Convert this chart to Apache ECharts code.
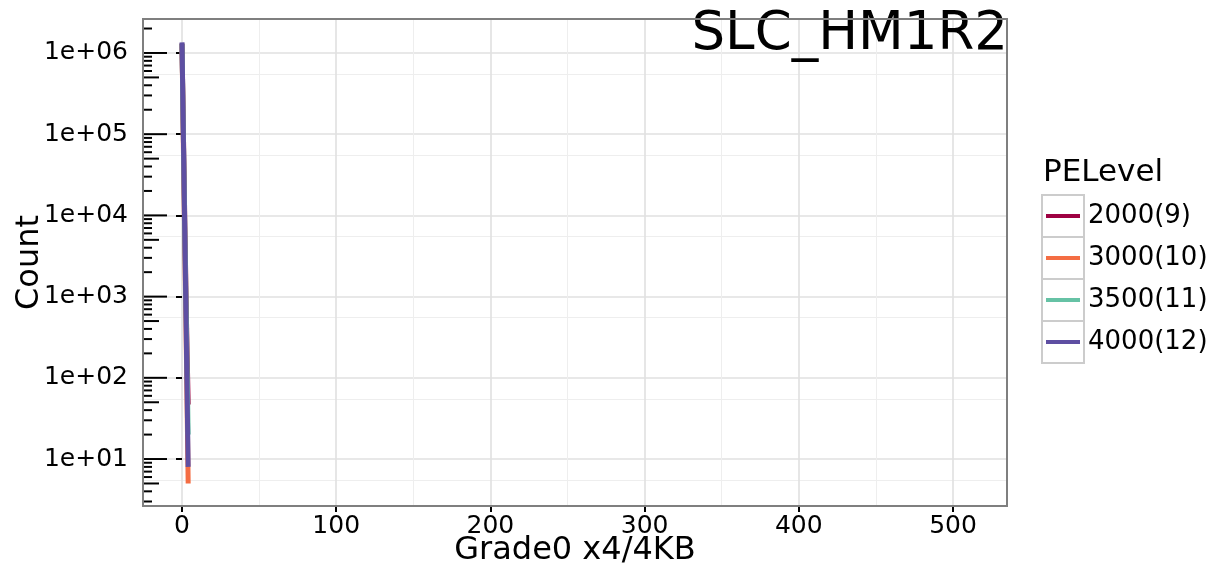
<!DOCTYPE html>
<html>
<head>
<meta charset="utf-8">
<script src="https://cdn.jsdelivr.net/npm/echarts@6/dist/echarts.min.js"></script>
<style>
  html, body { margin: 0; padding: 0; background: #fff; }
  #chart { width: 1229px; height: 573px; }
</style>
</head>
<body>
<div id="chart"></div>
<script>
// grade buckets on the x axis
var grades = [0, 1, 2, 3, 4];
// counts per PE level
var pe2000 = [1300000, 80000, 5000, 400, 47];
var pe3000 = [1300000, 50000, 2500, 120, 5];
var pe3500 = [1300000, 70000, 4000, 300, 20];
var pe4000 = [1350000, 66000, 3200, 160, 8];
var seriesNames = ['2000(9)', '3000(10)', '3500(11)', '4000(12)'];
var seriesColors = ['#9E0142', '#F46D43', '#66C2A5', '#5E4FA2'];
// log tick marks inside the panel
var decades = [0, 1, 2, 3, 4, 5, 6];
var multipliers = [1, 2, 3, 4, 5, 6, 7, 8, 9];

var xMin = -25.3, xMax = 535;
var yMin = 2.64, yMax = 2.62e6;
var font = 'DejaVu Sans';

function pairs(ys) {
    return grades.map(function (g, i) { return [g, ys[i]]; });
}

var logTicks = [];
decades.forEach(function (d) {
    multipliers.forEach(function (m) {
        var v = m * Math.pow(10, d);
        if (v >= yMin && v <= yMax) {
            logTicks.push([xMin, v, m]);
        }
    });
});

var chart = echarts.init(document.getElementById('chart'));

var lineSeries = [pe2000, pe3000, pe3500, pe4000].map(function (ys, i) {
    return {
        name: seriesNames[i],
        type: 'line',
        data: pairs(ys),
        showSymbol: false,
        symbol: 'none',
        lineStyle: { color: seriesColors[i], width: 5, cap: 'butt' },
        itemStyle: { color: seriesColors[i] },
        z: 3
    };
});

var boxes = seriesNames.map(function (n, i) {
    return {
        type: 'rect',
        z: 1,
        shape: { x: 1042, y: 195 + i * 42, width: 42, height: 42 },
        style: { fill: '#ffffff', stroke: '#cccccc', lineWidth: 2 }
    };
});
// panel border on top of the grid lines
boxes.push({
    type: 'rect',
    z: 50,
    shape: { x: 143, y: 19, width: 864, height: 487 },
    style: { fill: null, stroke: '#7f7f7f', lineWidth: 2 }
});

var option = {
    animation: false,
    backgroundColor: '#ffffff',
    textStyle: { fontFamily: font },
    title: [
        {
            text: 'SLC_HM1R2',
            right: 221,
            top: 9,
            padding: 0,
            textStyle: { fontFamily: font, fontSize: 53, fontWeight: 'normal', color: '#000' }
        },
        {
            text: 'PELevel',
            left: 1043,
            top: 157,
            padding: 0,
            textStyle: { fontFamily: font, fontSize: 31, fontWeight: 'normal', color: '#000' }
        }
    ],
    grid: {
        left: 143, right: 222, top: 19, bottom: 67,
        outerBoundsMode: 'none',
        containLabel: false,
        show: false
    },
    legend: {
        data: seriesNames,
        orient: 'vertical',
        left: 1046,
        top: 195,
        padding: 0,
        itemWidth: 34,
        itemHeight: 4,
        itemGap: 0,
        icon: 'rect',
        z: 5,
        textStyle: { fontFamily: font, fontSize: 26, color: '#000', lineHeight: 42, padding: [0, 0, 0, 3] }
    },
    graphic: boxes,
    xAxis: {
        type: 'value',
        min: xMin,
        max: xMax,
        splitNumber: 5,
        axisLine: { show: false },
        axisTick: { show: true, length: 6, lineStyle: { color: '#000', width: 2 } },
        axisLabel: {
            fontFamily: font, fontSize: 25, color: '#000', margin: 8,
            showMinLabel: false, showMaxLabel: false
        },
        splitLine: { show: true, lineStyle: { color: '#e0e0e0', width: 1.6 } },
        minorTick: { show: false, splitNumber: 2 },
        minorSplitLine: { show: true, lineStyle: { color: '#eeeeee', width: 1 } },
        name: 'Grade0 x4/4KB',
        nameLocation: 'middle',
        nameMoveOverlap: false,
        nameGap: 29,
        nameTextStyle: { fontFamily: font, fontSize: 32, color: '#000' }
    },
    yAxis: {
        type: 'log',
        logBase: 10,
        min: yMin,
        max: yMax,
        splitNumber: 6,
        axisLine: { show: false },
        axisTick: { show: true, length: 6, lineStyle: { color: '#000', width: 2 } },
        axisLabel: {
            fontFamily: font, fontSize: 25, color: '#000', margin: 15,
            showMinLabel: false, showMaxLabel: false,
            formatter: function (v) {
                var e = Math.round(Math.log10(v));
                return '1e+' + (e < 10 ? '0' : '') + e;
            }
        },
        splitLine: { show: true, lineStyle: { color: '#e0e0e0', width: 1.6 } },
        minorTick: { show: false, splitNumber: 2 },
        minorSplitLine: { show: true, lineStyle: { color: '#eeeeee', width: 1 } },
        name: 'Count',
        nameLocation: 'middle',
        nameMoveOverlap: false,
        nameGap: 97,
        nameTextStyle: { fontFamily: font, fontSize: 32, color: '#000' }
    },
    series: lineSeries.concat([{
        name: 'logticks',
        type: 'custom',
        data: logTicks,
        z: 2,
        silent: true,
        renderItem: function (params, api) {
            var y = api.coord([api.value(0), api.value(1)])[1];
            var x0 = params.coordSys.x;
            var m = api.value(2);
            var len = m === 1 ? 24 : (m === 5 ? 16 : 9);
            return {
                type: 'line',
                shape: { x1: x0, y1: y, x2: x0 + len, y2: y },
                style: { stroke: '#000', lineWidth: 2 }
            };
        }
    }])
};

chart.setOption(option);
</script>
</body>
</html>
